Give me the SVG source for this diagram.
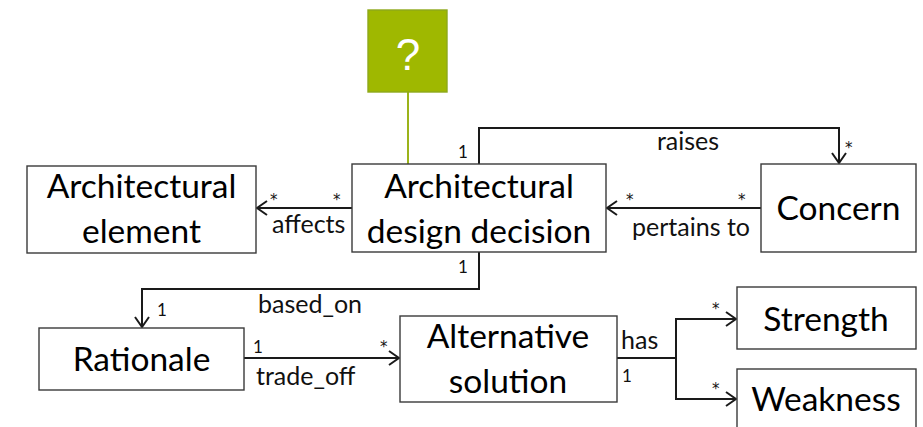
<svg xmlns="http://www.w3.org/2000/svg" width="923" height="427" viewBox="0 0 923 427">
<defs>
<style>
.box{fill:#fff;stroke:#3a3a3a;stroke-width:1.4}
.big{font-family:Lato,"Liberation Sans",sans-serif;font-size:33.5px;fill:#000;text-anchor:middle}
.lbl{font-family:Lato,"Liberation Sans",sans-serif;font-size:25px;fill:#111}
.m{font-family:Lato,"Liberation Sans",sans-serif;font-size:17px;fill:#111}
.s{font-family:"DejaVu Sans","Liberation Sans",sans-serif;font-size:15px;fill:#111}
.c{fill:none;stroke:#1a1a1a;stroke-width:2}
</style>
<marker id="open" viewBox="0 0 12 16" refX="11" refY="8" markerWidth="12" markerHeight="16" markerUnits="userSpaceOnUse" orient="auto">
<path d="M1,1 L11,8 L1,15" fill="none" stroke="#1a1a1a" stroke-width="2"/>
</marker>
</defs>
<g id="connectors">
<line x1="408" y1="92" x2="408" y2="164" stroke="#9bb31a" stroke-width="2"/>
<path class="c" d="M479,164 V128 H839 V163" marker-end="url(#open)"/>
<path class="c" d="M352,208 H257" marker-end="url(#open)"/>
<path class="c" d="M761,208 H607" marker-end="url(#open)"/>
<path class="c" d="M479,252 V289 H142 V327" marker-end="url(#open)"/>
<path class="c" d="M244,358 H399" marker-end="url(#open)"/>
<path class="c" d="M617,358 H676" stroke-width="3"/>
<path class="c" d="M676,358 V319 H736" marker-end="url(#open)"/>
<path class="c" d="M676,358 V399 H736" marker-end="url(#open)"/>
<text class="lbl" x="688" y="150" text-anchor="middle">raises</text>
<text class="m" x="458" y="158">1</text>
<text class="s" x="845" y="153">*</text>
<text class="lbl" x="272" y="233">affects</text>
<text class="s" x="270" y="205">*</text>
<text class="s" x="333" y="205">*</text>
<text class="lbl" x="632" y="236">pertains to</text>
<text class="s" x="626" y="205">*</text>
<text class="s" x="738" y="205">*</text>
<text class="lbl" x="258" y="313">based_on</text>
<text class="m" x="458" y="273">1</text>
<text class="m" x="157" y="316">1</text>
<text class="lbl" x="256" y="385">trade_off</text>
<text class="m" x="253" y="353">1</text>
<text class="s" x="380" y="352">*</text>
<text class="lbl" x="621" y="349">has</text>
<text class="m" x="622" y="382">1</text>
<text class="s" x="712" y="314">*</text>
<text class="s" x="712" y="394">*</text>
</g>
<g id="question">
<rect x="368" y="10" width="79" height="82" fill="#9fb800" stroke="#8ea81a" stroke-width="1.4"/>
<text x="408" y="70" font-family="'Liberation Sans',Arial,sans-serif" font-size="44" fill="#fff" text-anchor="middle">?</text>
</g>
<g id="architectural-element">
<rect class="box" x="27" y="166" width="229" height="87"/>
<text class="big" x="141.5" y="198">Architectural</text>
<text class="big" x="141.5" y="243">element</text>
</g>
<g id="architectural-design-decision">
<rect class="box" x="352" y="164" width="254" height="88"/>
<text class="big" x="479" y="198">Architectural</text>
<text class="big" x="479" y="243">design decision</text>
</g>
<g id="concern">
<rect class="box" x="761" y="164" width="155" height="88"/>
<text class="big" x="838.5" y="220">Concern</text>
</g>
<g id="rationale">
<rect class="box" x="39" y="328" width="205" height="62"/>
<text class="big" x="141.5" y="371">Rationale</text>
</g>
<g id="alternative-solution">
<rect class="box" x="400" y="316" width="217" height="86"/>
<text class="big" x="508" y="348">Alternative</text>
<text class="big" x="508" y="393">solution</text>
</g>
<g id="strength">
<rect class="box" x="737" y="287" width="179" height="62"/>
<text class="big" x="826" y="331">Strength</text>
</g>
<g id="weakness">
<rect class="box" x="737" y="369" width="179" height="70"/>
<text class="big" x="826" y="411">Weakness</text>
</g>
</svg>
